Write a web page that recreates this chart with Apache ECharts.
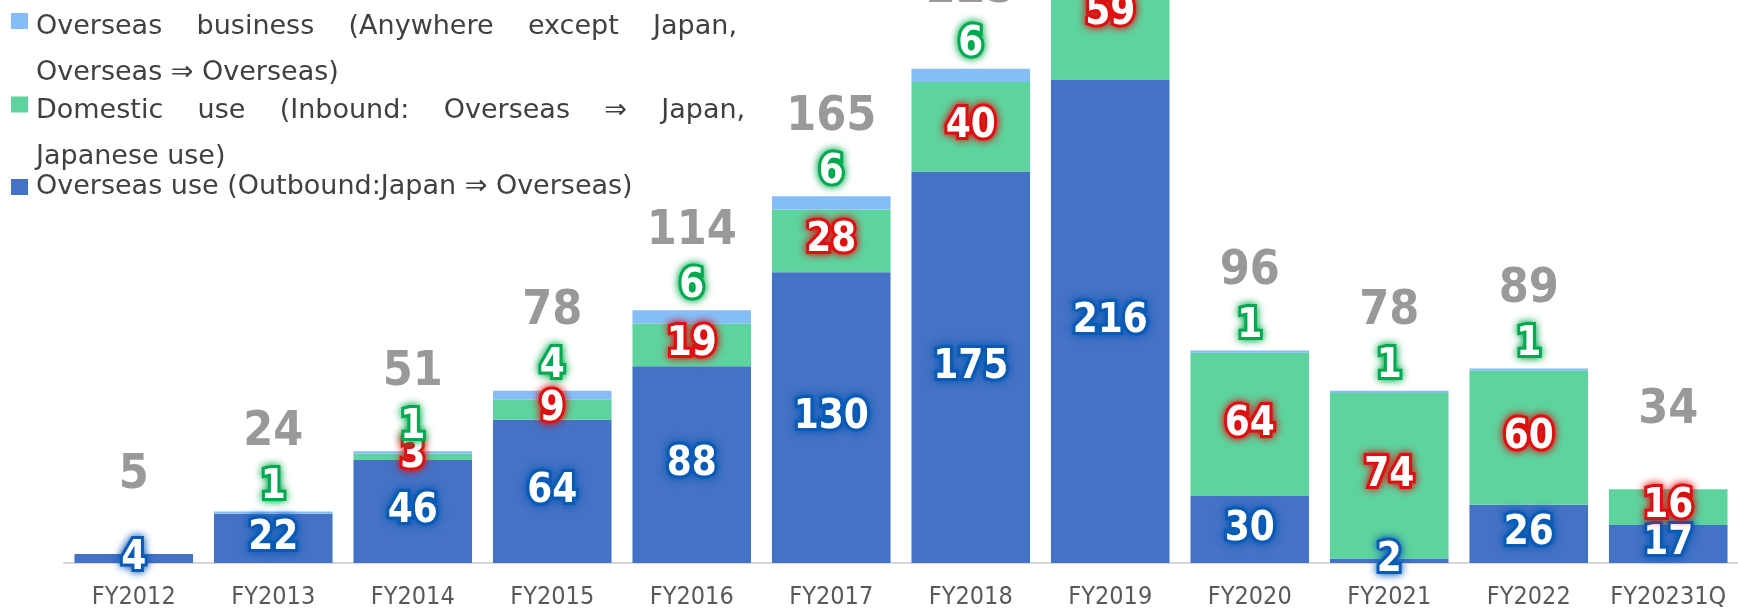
<!DOCTYPE html>
<html>
<head>
<meta charset="utf-8">
<script src="https://cdn.jsdelivr.net/npm/echarts@6/dist/echarts.min.js"></script>
<style>
html, body { margin: 0; padding: 0; background: #ffffff; }
#chart { width: 1738px; height: 610px; }
</style>
</head>
<body>
<div id="chart"></div>
<script>
// ---- data ----
const categories = ['FY2012', 'FY2013', 'FY2014', 'FY2015', 'FY2016', 'FY2017', 'FY2018', 'FY2019', 'FY2020', 'FY2021', 'FY2022', 'FY20231Q'];
const overseasUse      = [4, 22, 46, 64, 88, 130, 175, 216, 30, 2, 26, 17];   // Outbound
const domesticUse      = [0, 0, 3, 9, 19, 28, 40, 59, 64, 74, 60, 16];        // Inbound
const overseasBusiness = [0, 1, 1, 4, 6, 6, 6, 6, 1, 1, 1, 0];                 // Overseas -> Overseas
const totals           = [5, 24, 51, 78, 114, 165, 225, 281, 96, 78, 89, 34];

const nameOutbound = 'Overseas use (Outbound:Japan ⇒ Overseas)';
const nameInbound  = 'Domestic use (Inbound: Overseas ⇒ Japan, Japanese use)';
const nameBusiness = 'Overseas business (Anywhere except Japan, Overseas ⇒ Overseas)';

const legendLines = {};
legendLines[nameBusiness] = '{top| }\n{t|Overseas    business    (Anywhere    except    Japan,}\n{t|Overseas ⇒ Overseas)}';
legendLines[nameInbound]  = '{top| }\n{t|Domestic    use    (Inbound:    Overseas    ⇒    Japan,}\n{t|Japanese use)}';
legendLines[nameOutbound] = '{one| }\n{t|Overseas use (Outbound:Japan ⇒ Overseas)}\n{one| }';

// ---- styles ----
const C_BLUE = '#4472C4', C_GREEN = '#5DD39E', C_LIGHT = '#85BEF7';
const labelFont = '"DejaVu Sans Condensed", "DejaVu Sans", sans-serif';

function glowLabel(border, position, distance) {
  return {
    show: true,
    position: position,
    distance: distance,
    color: '#ffffff',
    fontFamily: labelFont,
    fontWeight: 'bold',
    fontSize: 40,
    textBorderColor: border,
    textBorderWidth: 6,
    textShadowColor: border,
    textShadowBlur: 8,
    formatter: p => (p.value ? String(p.value) : '')
  };
}

const stackSum = categories.map((_, i) => overseasUse[i] + domesticUse[i] + overseasBusiness[i]);

const legendFont = { fontFamily: '"DejaVu Sans", sans-serif', fontSize: 27, color: '#404040' };

const chart = echarts.init(document.getElementById('chart'), null, { renderer: 'canvas' });
chart.setOption({
  backgroundColor: '#ffffff',
  animation: false,
  grid: { left: 64, right: 0, top: -108, bottom: 47, outerBoundsMode: 'none', containLabel: false },
  legend: {
    orient: 'vertical',
    left: 11,
    top: -54,
    padding: 0,
    itemGap: -57,
    itemWidth: 17,
    itemHeight: 16,
    icon: 'rect',
    selectedMode: false,
    textStyle: Object.assign({}, legendFont, {
      rich: {
        top: Object.assign({}, legendFont, { lineHeight: 58, height: 58 }),
        one: Object.assign({}, legendFont, { lineHeight: 51, height: 51 }),
        t: Object.assign({}, legendFont, { lineHeight: 46, padding: [0, 0, 0, 3] })
      }
    }),
    formatter: name => legendLines[name],
    data: [nameBusiness, nameInbound, nameOutbound]
  },
  xAxis: {
    type: 'category',
    data: categories,
    axisTick: { show: false },
    axisLine: { lineStyle: { color: '#D9D9D9', width: 2 } },
    axisLabel: { color: '#595959', fontFamily: labelFont, fontSize: 25, margin: 22, interval: 0 }
  },
  yAxis: { type: 'value', min: 0, max: 300, show: false, splitLine: { show: false } },
  series: [
    {
      name: nameOutbound, type: 'bar', stack: 'all', data: overseasUse,
      barCategoryGap: '15%', itemStyle: { color: C_BLUE },
      label: glowLabel('#0A5BB5', 'inside', 0)
    },
    {
      name: nameInbound, type: 'bar', stack: 'all', data: domesticUse,
      itemStyle: { color: C_GREEN },
      label: glowLabel('#E01010', 'inside', 0)
    },
    {
      name: nameBusiness, type: 'bar', stack: 'all', data: overseasBusiness,
      itemStyle: { color: C_LIGHT },
      label: glowLabel('#00A94F', 'top', 4)
    },
    {
      name: 'Total', type: 'scatter', data: stackSum, symbolSize: 0, silent: true,
      itemStyle: { color: 'rgba(0,0,0,0)' },
      label: {
        show: true, position: 'top', distance: 55,
        color: '#808080', fontFamily: labelFont, fontWeight: 'bold', fontSize: 48,
        formatter: p => String(totals[p.dataIndex])
      }
    }
  ]
});
</script>
</body>
</html>
